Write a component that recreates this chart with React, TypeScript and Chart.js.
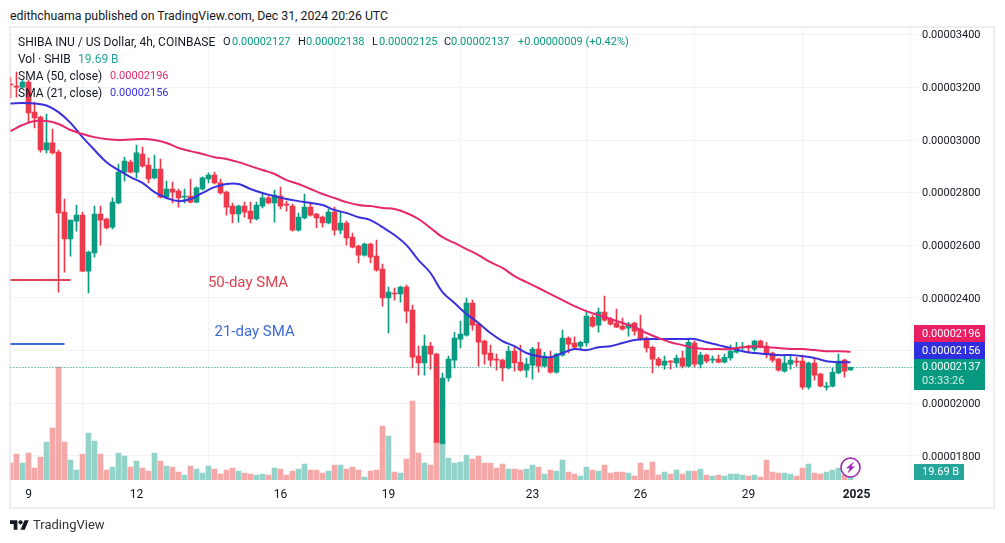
import React, { useEffect, useRef } from "react";
import { Chart, registerables } from "chart.js";

Chart.register(...registerables);

// Prices are in units of 0.00000001 USD
const opens = [3213,3205,3201,3220,3106,3087,2962,2989,2954,2726,2624,2692,2715,2502,2571,2719,2700,2669,2761,2878,2916,2878,2947,2905,2856,2890,2783,2814,2806,2783,2787,2764,2814,2852,2867,2837,2802,2749,2719,2749,2730,2700,2749,2780,2761,2787,2757,2749,2658,2704,2745,2719,2707,2685,2726,2658,2685,2631,2597,2563,2605,2559,2510,2400,2419,2415,2441,2354,2179,2153,2217,2187,1848,2096,2164,2244,2259,2381,2301,2236,2191,2168,2164,2134,2198,2156,2126,2145,2206,2141,2175,2118,2183,2248,2229,2217,2229,2327,2297,2346,2320,2305,2293,2285,2305,2282,2248,2213,2168,2145,2160,2153,2172,2141,2229,2149,2183,2164,2168,2156,2172,2194,2210,2217,2206,2236,2217,2191,2168,2122,2149,2160,2160,2061,2153,2111,2061,2065,2115,2164,2127];
const closes = [3209,3201,3220,3103,3084,2962,2989,2951,2723,2624,2696,2715,2502,2574,2719,2696,2666,2764,2878,2920,2878,2951,2901,2852,2890,2783,2814,2802,2780,2787,2764,2818,2856,2867,2837,2799,2745,2719,2749,2726,2700,2753,2780,2761,2791,2749,2753,2658,2707,2745,2715,2704,2685,2726,2658,2685,2628,2593,2563,2605,2555,2506,2400,2422,2415,2441,2350,2175,2153,2217,2187,1852,2096,2168,2248,2263,2381,2297,2232,2187,2164,2164,2134,2198,2153,2126,2149,2206,2141,2179,2118,2187,2248,2225,2213,2232,2331,2293,2346,2316,2301,2289,2282,2301,2274,2244,2210,2168,2145,2160,2156,2172,2141,2232,2149,2183,2160,2168,2156,2175,2198,2213,2213,2210,2236,2213,2187,2164,2126,2153,2164,2156,2061,2153,2107,2065,2065,2118,2160,2122,2137];
const highs = [3239,3258,3228,3228,3144,3091,3099,3042,2962,2776,2696,2753,2726,2578,2749,2749,2704,2780,2909,2935,2924,2981,2973,2932,2943,2928,2844,2840,2814,2814,2852,2822,2860,2875,2878,2852,2806,2761,2753,2764,2764,2764,2799,2787,2810,2821,2768,2757,2723,2795,2764,2722,2711,2738,2745,2726,2692,2647,2601,2609,2609,2620,2529,2441,2438,2445,2449,2373,2217,2259,2232,2191,2115,2179,2270,2312,2400,2392,2305,2240,2221,2187,2168,2217,2213,2221,2172,2213,2232,2194,2198,2191,2278,2252,2252,2236,2350,2335,2362,2407,2327,2358,2324,2308,2308,2335,2252,2217,2175,2179,2162,2183,2198,2244,2236,2194,2187,2179,2183,2187,2221,2232,2232,2221,2240,2240,2232,2195,2172,2183,2179,2175,2183,2157,2172,2115,2080,2134,2187,2168,2138];
const lows = [3160,3163,3198,3068,3046,2954,2951,2947,2422,2498,2559,2654,2500,2419,2555,2601,2662,2662,2757,2844,2875,2856,2897,2837,2852,2780,2780,2761,2745,2761,2761,2761,2810,2837,2833,2795,2715,2685,2688,2707,2685,2696,2742,2757,2688,2738,2730,2654,2654,2700,2711,2666,2669,2681,2639,2643,2601,2590,2533,2559,2533,2502,2369,2267,2392,2384,2305,2134,2107,2107,2130,1850,1846,2084,2134,2210,2255,2278,2141,2149,2141,2126,2084,2130,2122,2122,2099,2092,2118,2138,2114,2114,2179,2191,2210,2206,2217,2289,2270,2312,2297,2287,2278,2255,2259,2240,2194,2115,2141,2130,2130,2138,2134,2138,2138,2134,2153,2153,2153,2153,2164,2190,2202,2191,2198,2210,2172,2156,2122,2118,2130,2141,2054,2054,2088,2062,2050,2062,2112,2099,2125];
// Traded volume, billions of SHIB
const volumes = [42.5,65,42.5,67.5,30,57.5,95,130,282.5,95,50,25,65,117.5,97.5,65,25,32.5,67.5,60,32.5,47.5,30,22.5,67.5,47.5,35,32.5,20,12.5,35,27.5,17.5,35,27.5,15,25,30,22.5,17.5,15,12.5,15,12.5,30,27.5,12.5,22.5,27.5,40,25,25,17.5,22.5,37.5,37.5,27.5,32.5,25,7.5,22.5,25,135,110,20,17.5,52.5,197.5,67.5,42.5,37.5,95,95,55,42.5,45,62.5,52.5,60,42.5,42.5,30,40,27.5,27.5,25,27.5,37.5,32.5,15,25,22.5,50,20,15,10,32.5,25,22.5,37.5,17.5,20,20,17.5,10,42.5,25,45,12.5,20,15,25,15,22.5,22.5,27.5,12.5,10,12.5,10,15,15,12.5,10,12.5,7.5,50,20,17.5,17.5,15,10,30,40,17.5,15,20,25,30,12.5,19.69];
// Moving averages, read at every second candle
const sma21 = [3139,3141,3139,3131,3106,3065,3011,2962,2916,2886,2859,2837,2802,2780,2768,2776,2799,2821,2833,2833,2814,2799,2787,2776,2768,2761,2753,2734,2723,2707,2696,2669,2639,2601,2544,2495,2422,2381,2339,2305,2267,2236,2217,2191,2179,2175,2191,2206,2202,2213,2217,2229,2240,2244,2244,2244,2244,2244,2232,2221,2210,2198,2191,2187,2183,2183,2179,2172,2160,2156,2156];
const sma50 = [3034,3057,3072,3072,3061,3038,3023,3011,3004,3000,3002,3004,3000,2989,2970,2958,2947,2935,2928,2916,2901,2886,2871,2848,2833,2814,2795,2780,2764,2753,2749,2742,2738,2723,2700,2666,2631,2609,2586,2563,2536,2514,2483,2460,2438,2415,2392,2369,2350,2335,2320,2305,2289,2267,2248,2232,2221,2210,2206,2206,2206,2213,2217,2213,2210,2206,2206,2202,2198,2198,2196];
const smaEvery = 2;
// Time axis
const dayTicks: [number, string][] = [[3,"9"],[21,"12"],[45,"16"],[63,"19"],[87,"23"],[105,"26"],[123,"29"],[141,"2025"]];
const slotCount = 152;
const priceTicks = [1800,2000,2200,2400,2600,2800,3000,3200,3400];
const hiddenPriceTicks = [2200];
// Hand-drawn notes on the chart
const redNote = { text: "50-day SMA", slot: 32.9, price: 2456, lineEnd: 10, linePrice: 2468 };
const blueNote = { text: "21-day SMA", slot: 34, price: 2271, lineEnd: 9, linePrice: 2225 };
const lastClose = 2137;
const badges = [
  { text: "0.00002196", color: "#e91e63", top: 325, height: 17 },
  { text: "0.00002156", color: "#2f2fe0", top: 342, height: 17 },
];

const RED = "#ec3a4c";
const GREEN = "#0b9a82";
const RED_VOL = "#f5a8a8";
const GREEN_VOL = "#93d3c9";
const FONT = "Roboto, sans-serif";
const INK = "#131722";
const SMA_RED = "#e6286a";
const SMA_BLUE = "#3a30dc";

const slots = Array.from({ length: slotCount }, (_, i) => i);
const slotLabels = slots.map((i) => dayTicks.find((d) => d[0] === i)?.[1] ?? "");
const isUp = opens.map((o, i) => closes[i] >= o);
const sparse = (vals: number[]) =>
  slots.map((i) => (i % smaEvery === 0 && i / smaEvery < vals.length ? vals[i / smaEvery] : null));
const noteLine = (end: number, price: number) => slots.map((i) => (i <= end ? price : null));

const overlay = {
  id: "overlay",
  afterDraw(chart: any) {
    const { ctx, chartArea, scales } = chart;
    const x = scales.x, y = scales.y;
    ctx.save();
    // last price line
    const py = Math.round(y.getPixelForValue(lastClose)) + 0.5;
    ctx.strokeStyle = GREEN;
    ctx.lineWidth = 1;
    ctx.setLineDash([1, 2]);
    ctx.beginPath();
    ctx.moveTo(chartArea.left, py);
    ctx.lineTo(chartArea.right, py);
    ctx.stroke();
    ctx.setLineDash([]);
    // notes
    ctx.font = `15px ${FONT}`;
    ctx.textBaseline = "middle";
    ctx.textAlign = "left";
    ctx.fillStyle = "#dc4450";
    ctx.fillText(redNote.text, x.getPixelForValue(redNote.slot), y.getPixelForValue(redNote.price));
    ctx.fillStyle = "#3f6bd8";
    ctx.fillText(blueNote.text, x.getPixelForValue(blueNote.slot), y.getPixelForValue(blueNote.price));
    // price badges
    ctx.font = `11px ${FONT}`;
    for (const b of badges) {
      ctx.fillStyle = b.color;
      ctx.fillRect(914, b.top, 71, b.height);
      ctx.fillStyle = "#ffffff";
      ctx.fillText(b.text, 922, b.top + b.height / 2 + 0.5);
    }
    ctx.fillStyle = "#089981";
    ctx.fillRect(914, 359, 71, 31);
    ctx.fillStyle = "#ffffff";
    ctx.fillText("0.00002137", 922, 367.5);
    ctx.fillStyle = "#d5efe9";
    ctx.fillText("03:33:26", 922, 381.5);
    ctx.fillStyle = "#26a69a";
    ctx.fillRect(914, 464, 50, 16);
    ctx.fillStyle = "#ffffff";
    ctx.fillText("19.69 B", 922, 472.5);
    // lightning badge
    const cx = x.getPixelForValue(140), cy = 467.5;
    ctx.beginPath();
    ctx.arc(cx, cy, 9.5, 0, Math.PI * 2);
    ctx.fillStyle = "#ffffff";
    ctx.fill();
    ctx.strokeStyle = "#9c27b0";
    ctx.lineWidth = 1.6;
    ctx.stroke();
    ctx.fillStyle = "#9c27b0";
    ctx.beginPath();
    ctx.moveTo(cx + 3.5, cy - 6);
    ctx.lineTo(cx - 4.5, cy + 0.8);
    ctx.lineTo(cx - 0.8, cy + 0.8);
    ctx.lineTo(cx - 3, cy + 6);
    ctx.lineTo(cx + 4.5, cy - 1);
    ctx.lineTo(cx + 0.8, cy - 1);
    ctx.closePath();
    ctx.fill();
    ctx.restore();
  },
};

const abs = (left: number, top: number, extra: React.CSSProperties = {}): React.CSSProperties => ({
  position: "absolute",
  left,
  top,
  lineHeight: "14px",
  whiteSpace: "pre",
  ...extra,
});

const ohlcItems: [number, string, string][] = [
  [223, "O", "#131722"],[232, "0.00002127", "#089981"],
  [298, "H", "#131722"],[306, "0.00002138", "#089981"],
  [372, "L", "#131722"],[379, "0.00002125", "#089981"],
  [444, "C", "#131722"],[451, "0.00002137", "#089981"],
  [518, "+0.00000009 (+0.42%)", "#089981"],
];

export default function App() {
  const ref = useRef<HTMLCanvasElement>(null);
  useEffect(() => {
    const chart = new Chart(ref.current as HTMLCanvasElement, {
      type: "bar",
      data: {
        labels: slotLabels,
        datasets: [
          { type: "line", data: sparse(sma50), borderColor: SMA_RED, borderWidth: 2, pointRadius: 0, spanGaps: true, tension: 0.4, order: 1 },
          { type: "line", data: sparse(sma21), borderColor: SMA_BLUE, borderWidth: 2, pointRadius: 0, spanGaps: true, tension: 0.4, order: 2 },
          { type: "line", data: noteLine(redNote.lineEnd, redNote.linePrice), borderColor: "#dc4450", borderWidth: 2, pointRadius: 0, order: 0 },
          { type: "line", data: noteLine(blueNote.lineEnd, blueNote.linePrice), borderColor: "#3f6bd8", borderWidth: 2, pointRadius: 0, order: 0 },
          { type: "bar", data: opens.map((o, i) => [o, closes[i]]), backgroundColor: isUp.map((u) => (u ? GREEN : RED)), barThickness: 5, grouped: false, order: 3 },
          { type: "bar", data: lows.map((l, i) => [l, highs[i]]), backgroundColor: isUp.map((u) => (u ? GREEN : RED)), barThickness: 1, grouped: false, order: 4 },
          { type: "bar", yAxisID: "vol", data: volumes, backgroundColor: isUp.map((u) => (u ? GREEN_VOL : RED_VOL)), barThickness: 5, grouped: false, order: 5 },
        ],
      } as any,
      plugins: [overlay],
      options: {
        animation: false,
        responsive: false,
        events: [],
        layout: { padding: { left: 10.5, top: 28, right: 0, bottom: 0 } },
        plugins: { legend: { display: false }, tooltip: { enabled: false } },
        scales: {
          x: {
            type: "category",
            offset: false,
            grid: { color: "#f1f3f7", drawTicks: false },
            border: { display: false },
            ticks: {
              autoSkip: false,
              maxRotation: 0,
              padding: 8,
              color: INK,
              font: (c: any) => ({ family: FONT, size: 12, weight: c.tick?.label === "2025" ? "bold" : "normal" }),
            },
            afterBuildTicks: (s: any) => {
              s.ticks = s.ticks.filter((t: any) => slotLabels[t.value] !== "");
            },
            afterFit: (s: any) => {
              s.height = 63;
            },
          },
          y: {
            position: "right",
            min: 1708.6,
            max: 3425.6,
            grid: { color: "#f1f3f7", drawTicks: false },
            border: { display: false },
            ticks: {
              padding: 5.5,
              color: INK,
              // an empty first line with a 2px line height sets the label 1px lower
              font: { family: FONT, size: 11, lineHeight: "2px" },
              callback: (v: any) => (hiddenPriceTicks.includes(v) ? "" : ["", (v * 1e-8).toFixed(8)]),
            },
            afterBuildTicks: (s: any) => {
              s.ticks = priceTicks.map((value) => ({ value }));
            },
            afterFit: (s: any) => {
              s.width = 88.5;
            },
          },
          vol: { display: false, min: 0, max: 1130 },
        },
      } as any,
    });
    return () => chart.destroy();
  }, []);

  const small: React.CSSProperties = { fontFamily: FONT, fontSize: 12, color: INK };
  return (
    <div style={{ position: "absolute", left: 0, top: 0, width: 1005, height: 543, background: "#fff", overflow: "hidden", ...small }}>
      <div style={abs(10, 9, { fontSize: 12.3, color: INK })}>edithchuama published on TradingView.com, Dec 31, 2024 20:26 UTC</div>
      <div style={{ position: "absolute", left: 9, top: 26, width: 982, height: 479, border: "2px solid #eceef1" }} />
      <canvas ref={ref} width={1005} height={543} style={{ position: "absolute", left: 0, top: 0, display: "block" }} />
      <div style={abs(18, 35)}>SHIBA INU / US Dollar, 4h, COINBASE</div>
      {ohlcItems.map(([left, t, c]) => (
        <div key={left} style={abs(left, 35, { color: c, fontSize: 11 })}>{t}</div>
      ))}
      <div style={abs(18, 52)}>Vol · SHIB</div>
      <div style={abs(78, 52, { color: "#26a69a" })}>19.69 B</div>
      <div style={abs(18, 69)}>SMA (50, close)</div>
      <div style={abs(110, 69, { color: SMA_RED, fontSize: 11 })}>0.00002196</div>
      <div style={abs(18, 86)}>SMA (21, close)</div>
      <div style={abs(110, 86, { color: SMA_BLUE, fontSize: 11 })}>0.00002156</div>
      <svg style={{ position: "absolute", left: 10, top: 518 }} width={19} height={15} viewBox="0 0 36 28">
        <path d="M14 22H7V11H0V4h14v18zM28 22h-8l7.5-18h8L28 22z" fill={INK} />
        <circle cx={20} cy={8} r={4} fill={INK} />
      </svg>
      <div style={abs(33, 518, { fontSize: 13, color: "#333" })}>TradingView</div>
    </div>
  );
}
